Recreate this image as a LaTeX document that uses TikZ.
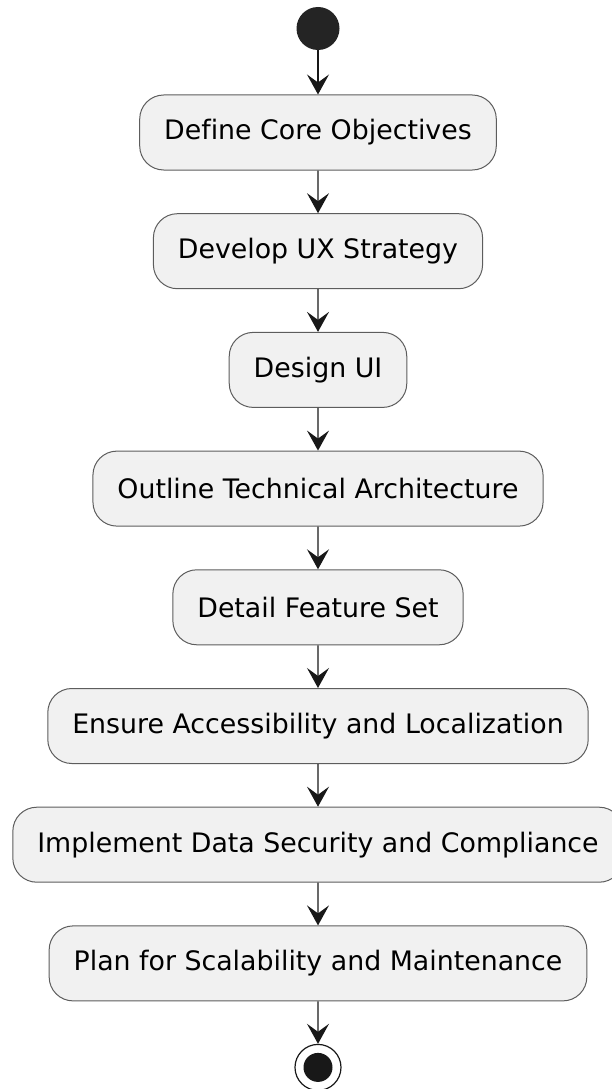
\documentclass[tikz,border=0pt]{standalone}
\usepackage{fontspec}
\setmainfont{DejaVu Sans}[Ligatures=NoCommon]
\usetikzlibrary{arrows.meta}
\definecolor{actfill}{HTML}{F1F1F1}
\definecolor{actline}{HTML}{181818}
\tikzset{
  level distance=118.7pt,
  level 1/.style={level distance=104pt},
  level 2/.style={level distance=118.7pt},
  level 9/.style={level distance=104pt},
  edge from parent/.style={draw=actline, line width=1.3pt, -{Stealth[length=20pt,width=22pt,inset=8pt]}},
  act/.style = {rectangle, rounded corners=24pt, draw=actline!70, line width=1pt, fill=actfill,
    minimum height=75pt, inner xsep=24.5pt, font=\fontsize{26.8}{32}\selectfont},
  start_n/.style = {circle, fill=actline!95, minimum size=43pt, inner sep=0pt},
  stop_n/.style = {circle, draw=actline, line width=1.2pt, minimum size=46pt, inner sep=0pt,
    path picture={\fill[actline] (path picture bounding box.center) circle (14.5pt);}}
}

\begin{document}
\begin{tikzpicture}[x=1pt, y=1pt]
	\useasboundingbox (0,0) rectangle (612,-1089);
	\node [start_n] (start) at (318,-28.5) {}
		child{ node [act] (objectives) {Define Core Objectives}
			child{ node [act] (ux) {Develop UX Strategy}
				child{ node [act] (ui) {Design UI}
					child{ node [act] (arch) {Outline Technical Architecture}
						child{ node [act] (features) {Detail Feature Set}
							child{ node [act] (access) {Ensure Accessibility and Localization}
								child{ node [act] (security) {Implement Data Security and Compliance}
									child{ node [act] (scale) {Plan for Scalability and Maintenance}
										child{ node [stop_n] (stop) {}}
									}
								}
							}
						}
					}
				}
			}
		};
	\end{tikzpicture}
\end{document}
